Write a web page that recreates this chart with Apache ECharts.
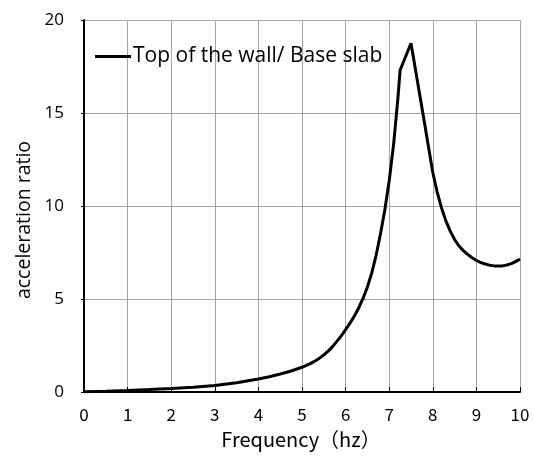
<!DOCTYPE html>
<html>
<head>
<meta charset="utf-8">
<script src="https://cdn.jsdelivr.net/npm/echarts@6/dist/echarts.min.js"></script>
<style>
  html, body { margin: 0; padding: 0; background: #fff; }
  #chart { width: 534px; height: 459px; }
</style>
</head>
<body>
<div id="chart"></div>
<script>
// Frequency response: acceleration ratio of wall top to base slab
const frequency = [0, 0.5, 1, 1.5, 2, 2.5, 3, 3.5, 4, 4.25, 4.5, 4.75,
  5, 5.1, 5.2, 5.3, 5.4, 5.5, 5.6, 5.7, 5.8, 5.9,
  6, 6.1, 6.2, 6.3, 6.4, 6.5, 6.6, 6.7, 6.8, 6.9, 7, 7.1, 7.2, 7.25,
  7.5, 7.75, 8, 8.1, 8.2, 8.3, 8.4, 8.5, 8.6, 8.7, 8.8, 8.9,
  9, 9.1, 9.2, 9.3, 9.4, 9.5, 9.6, 9.7, 9.8, 9.9, 10];
const ratio = [0.02, 0.04, 0.08, 0.13, 0.19, 0.26, 0.35, 0.5, 0.7, 0.82, 0.97, 1.13,
  1.33, 1.43, 1.54, 1.67, 1.82, 1.99, 2.2, 2.44, 2.72, 3.02,
  3.35, 3.7, 4.08, 4.52, 5.03, 5.65, 6.4, 7.35, 8.5, 9.8, 11.35, 13.3, 15.8, 17.3,
  18.75, 15.3, 11.8, 10.75, 9.9, 9.2, 8.65, 8.2, 7.85, 7.6, 7.4, 7.22,
  7.07, 6.96, 6.88, 6.82, 6.78, 6.77, 6.78, 6.83, 6.9, 7.01, 7.15];
const xTicks = [0, 1, 2, 3, 4, 5, 6, 7, 8, 9, 10];
const yTicks = [0, 5, 10, 15, 20];
const seriesName = 'Top of the wall/ Base slab';
const xTitle = 'Frequency（hz）';
const yTitle = 'acceleration ratio';

const points = frequency.map((f, i) => [f, ratio[i]]);

const chart = echarts.init(document.getElementById('chart'), null, { renderer: 'canvas' });
chart.setOption({
  animation: false,
  backgroundColor: '#fff',
  grid: { left: 84, right: 14, top: 20, bottom: 67, containLabel: false },
  legend: {
    left: 95, top: 46, padding: 0,
    itemWidth: 36, itemHeight: 14, itemGap: 0,
    textStyle: { fontFamily: 'Open Sans', fontSize: 21, color: '#000', padding: [0, 0, 0, -3] },
    data: [{ name: seriesName, icon: 'path://M0,6 L36,6 L36,9 L0,9 Z', itemStyle: { color: '#000' } }]
  },
  xAxis: {
    type: 'value', min: xTicks[0], max: xTicks[xTicks.length - 1], interval: 1,
    axisLine: { lineStyle: { color: '#000', width: 2 } },
    axisTick: { show: true, inside: true, length: 5, lineStyle: { color: '#000', width: 1 } },
    axisLabel: { margin: 14, fontFamily: 'Noto Sans CJK JP', fontSize: 17, color: '#000' },
    splitLine: { show: true, lineStyle: { color: '#a6a6a6', width: 1 } }
  },
  yAxis: {
    type: 'value', min: yTicks[0], max: yTicks[yTicks.length - 1], interval: 5,
    axisLine: { show: true, lineStyle: { color: '#000', width: 2 } },
    axisTick: { show: true, inside: false, length: 3, lineStyle: { color: '#000', width: 1 } },
    axisLabel: { margin: 20, fontFamily: 'Open Sans', fontSize: 17, color: '#000' },
    splitLine: { show: true, lineStyle: { color: '#a6a6a6', width: 1 } }
  },
  graphic: [
    {
      type: 'text', x: 301, y: 439,
      style: { text: xTitle, font: '20px "Noto Sans CJK JP"', fill: '#000',
        textAlign: 'center', textVerticalAlign: 'middle' }
    },
    {
      type: 'text', rotation: Math.PI / 2, x: 24, y: 220,
      style: { text: yTitle, font: '19.5px "Open Sans"', fill: '#000',
        textAlign: 'center', textVerticalAlign: 'middle' }
    }
  ],
  series: [{
    name: seriesName, type: 'line', data: points,
    symbol: 'none', smooth: false,
    lineStyle: { color: '#000', width: 3 },
    itemStyle: { color: '#000' }
  }]
});
</script>
</body>
</html>
